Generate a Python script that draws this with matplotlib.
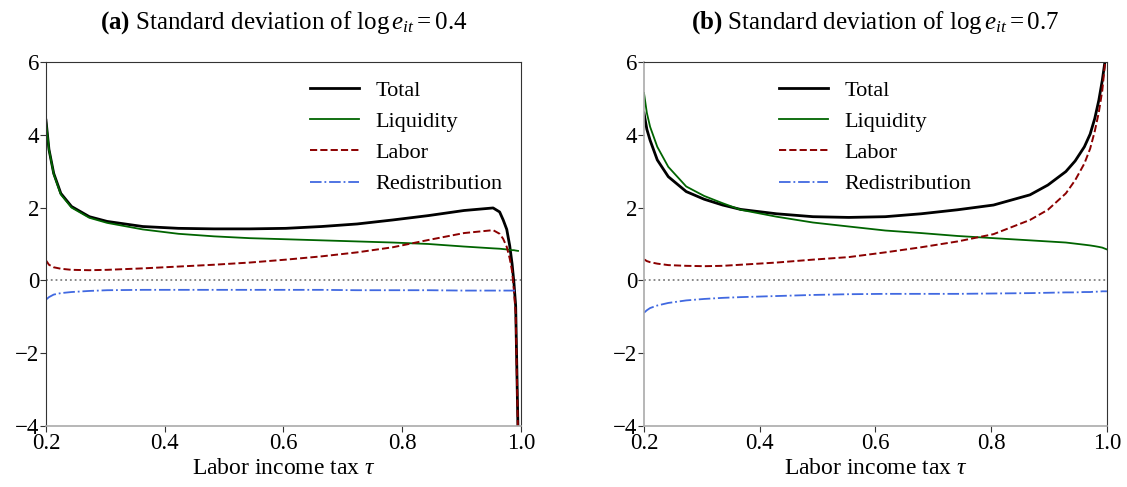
import matplotlib
matplotlib.use('Agg')
from matplotlib import pyplot as plt

plt.rcParams['font.family'] = ['Liberation Serif', 'DejaVu Serif']
plt.rcParams['mathtext.fontset'] = 'custom'
plt.rcParams['mathtext.rm'] = 'Liberation Serif'
plt.rcParams['mathtext.it'] = 'Liberation Serif:italic'
plt.rcParams['mathtext.bf'] = 'Liberation Serif:bold'
plt.rcParams['axes.unicode_minus'] = True

# panel (a): sd of log e = 0.4
tau_a = [0.2, 0.205, 0.213, 0.225, 0.243, 0.273, 0.303, 0.363, 0.423, 0.483,
         0.543, 0.604, 0.664, 0.724, 0.784, 0.844, 0.904, 0.953, 0.964, 0.970,
         0.976, 0.981, 0.985, 0.988, 0.991, 0.995]
total_a = [4.4, 3.6, 2.94, 2.39, 2.03, 1.75, 1.62, 1.48, 1.43, 1.415,
           1.415, 1.43, 1.48, 1.55, 1.66, 1.78, 1.92, 1.99, 1.88, 1.66,
           1.40, 0.95, 0.45, -0.05, -0.7, -4.2]
liquidity_a = [4.4, 3.6, 2.92, 2.36, 2.0, 1.72, 1.58, 1.40, 1.28, 1.21,
               1.16, 1.13, 1.10, 1.07, 1.04, 1.00, 0.93, 0.88, 0.87, 0.86,
               0.85, 0.84, 0.83, 0.83, 0.82, 0.81]
labor_a = [0.55, 0.43, 0.36, 0.32, 0.29, 0.28, 0.29, 0.33, 0.38, 0.43,
           0.49, 0.57, 0.66, 0.77, 0.91, 1.11, 1.30, 1.38, 1.28, 1.14,
           0.92, 0.60, 0.25, -0.26, -0.9, -4.3]
redist_a = [-0.53, -0.46, -0.39, -0.35, -0.32, -0.29, -0.27, -0.26, -0.26, -0.26,
            -0.26, -0.26, -0.26, -0.27, -0.27, -0.27, -0.28, -0.28, -0.28, -0.28,
            -0.28, -0.28, -0.28, -0.28, -0.28, -0.28]

# panel (b): sd of log e = 0.7
tau_b = [0.2, 0.205, 0.2106, 0.223, 0.242, 0.273, 0.304, 0.336, 0.367, 0.429,
         0.492, 0.554, 0.617, 0.679, 0.742, 0.804, 0.867, 0.898, 0.929, 0.945,
         0.961, 0.971, 0.979, 0.986, 0.992, 1.0]
total_b = [4.6, 4.15, 3.85, 3.31, 2.85, 2.44, 2.23, 2.07, 1.95, 1.83,
           1.75, 1.73, 1.75, 1.83, 1.94, 2.07, 2.35, 2.62, 2.99, 3.28,
           3.67, 4.02, 4.45, 4.95, 5.5, 6.4]
liquidity_b = [5.15, 4.6, 4.22, 3.67, 3.12, 2.58, 2.32, 2.12, 1.94, 1.75,
               1.59, 1.48, 1.37, 1.30, 1.22, 1.16, 1.10, 1.07, 1.04, 1.01,
               0.98, 0.96, 0.94, 0.92, 0.90, 0.85]
labor_b = [0.58, 0.53, 0.50, 0.46, 0.42, 0.40, 0.39, 0.40, 0.43, 0.49,
           0.57, 0.64, 0.77, 0.91, 1.07, 1.27, 1.66, 1.94, 2.39, 2.75,
           3.21, 3.62, 4.10, 4.62, 5.22, 6.5]
redist_b = [-0.89, -0.82, -0.76, -0.69, -0.62, -0.55, -0.51, -0.48, -0.46, -0.43,
            -0.40, -0.38, -0.37, -0.37, -0.37, -0.36, -0.35, -0.34, -0.33, -0.33,
            -0.32, -0.32, -0.31, -0.31, -0.30, -0.30]

titles = [r'$\mathbf{(a)}$ Standard deviation of $\log e_{it} = 0.4$',
          r'$\mathbf{(b)}$ Standard deviation of $\log e_{it} = 0.7$']
xticks = [0.2, 0.4, 0.6, 0.8, 1.0]
yticks = [-4, -2, 0, 2, 4, 6]

fig = plt.figure(figsize=(11.27, 4.87), dpi=100)
ax1 = fig.add_axes([0.0408, 0.1253, 0.4215, 0.7474])
ax2 = fig.add_axes([0.5714, 0.1253, 0.4108, 0.7474])

panels = [(ax1, tau_a, total_a, liquidity_a, labor_a, redist_a, 0.556),
          (ax2, tau_b, total_b, liquidity_b, labor_b, redist_b, 0.292)]

for i, (ax, t, tot, liq, lab, red, legx) in enumerate(panels):
    ax.axhline(0, color='grey', linestyle=':', linewidth=1.3, zorder=1)
    ax.plot(t, tot, color='black', linewidth=2.0, label='Total')
    ax.plot(t, liq, color='darkgreen', linewidth=1.3, label='Liquidity')
    ax.plot(t, lab, color='darkred', linestyle='--', linewidth=1.4, label='Labor')
    ax.plot(t, red, color='royalblue', linestyle='-.', linewidth=1.3, label='Redistribution')
    ax.set_xlim(0.2, 1.0)
    ax.set_ylim(-4, 6)
    ax.set_xticks(xticks)
    ax.set_xticklabels(['%.1f' % v for v in xticks])
    ax.set_yticks(yticks)
    ax.tick_params(labelsize=16.5, length=4, width=0.8, pad=1, color='#333333')
    ax.set_xlabel(r'Labor income tax $\tau$', fontsize=17, labelpad=3)
    ax.set_title(titles[i], fontsize=18, pad=24)
    for s in ['top', 'right', 'left']:
        ax.spines[s].set_color('#333333')
    ax.spines['bottom'].set_color('#aaaaaa')
    ax.spines['bottom'].set_linewidth(1.2)
    ax.legend(loc='upper left', bbox_to_anchor=(legx, 0.95), frameon=False,
              fontsize=16, borderpad=0, handlelength=2.2, handletextpad=0.75,
              labelspacing=0.48, borderaxespad=0)

ax2.spines['left'].set_color('#aaaaaa')
ax2.spines['left'].set_linewidth(1.2)

fig.savefig('out.png', dpi=100)
